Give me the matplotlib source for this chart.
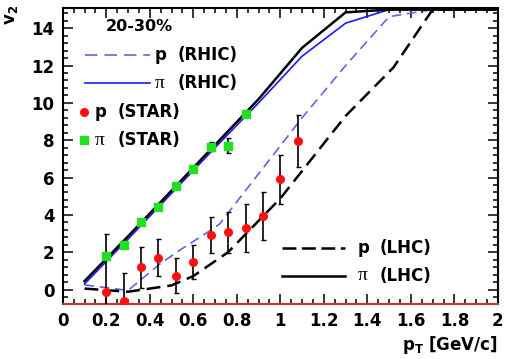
import matplotlib
matplotlib.use("Agg")
import matplotlib.pyplot as plt
from matplotlib.ticker import MultipleLocator

plt.rcParams['font.family'] = ['DejaVu Sans']
plt.rcParams['font.weight'] = 'bold'
plt.rcParams['mathtext.fontset'] = 'custom'
plt.rcParams['mathtext.bf'] = 'DejaVu Sans:bold'
plt.rcParams['mathtext.rm'] = 'DejaVu Sans:bold'
plt.rcParams['lines.scale_dashes'] = False

# ---------------- data ----------------
# LHC model curves (black)
lhc_p_pt = [0.1, 0.3, 0.5, 0.6, 0.76, 1.0, 1.3, 1.52, 1.7, 2.0]
lhc_p_v2 = [0.05, -0.12, 0.22, 0.72, 2.0, 4.88, 9.3, 11.9, 15.0, 15.0]
lhc_pi_pt = [0.1, 0.3, 0.5, 0.7, 0.9, 1.1, 1.3, 1.5, 2.0]
lhc_pi_v2 = [0.45, 2.85, 5.3, 7.75, 10.2, 12.95, 14.85, 15.0, 15.0]
# RHIC model curves (blue)
rhic_p_pt = [0.1, 0.3, 0.45, 0.55, 0.67, 0.72, 0.9, 1.1, 1.3, 1.5, 1.7, 2.0]
rhic_p_v2 = [0.25, -0.05, 1.4, 2.2, 3.1, 3.5, 6.2, 9.2, 12.0, 14.62, 15.0, 15.0]
rhic_pi_pt = [0.1, 0.3, 0.5, 0.7, 0.9, 1.1, 1.3, 1.5, 2.0]
rhic_pi_v2 = [0.3, 2.7, 5.15, 7.6, 10.0, 12.5, 14.27, 15.0, 15.0]
# STAR data
star_p_pt = [0.2, 0.28, 0.36, 0.44, 0.52, 0.6, 0.68, 0.76, 0.84, 0.92, 1.0, 1.08]
star_p_v2 = [-0.12, -0.62, 1.20, 1.70, 0.74, 1.47, 2.90, 3.07, 3.29, 3.95, 5.90, 7.94]
star_p_err = [3.1, 1.5, 1.1, 1.0, 0.93, 0.93, 0.96, 1.1, 1.3, 1.3, 1.3, 1.4]
star_pi_pt = [0.2, 0.28, 0.36, 0.44, 0.52, 0.6, 0.68, 0.76, 0.84]
star_pi_v2 = [1.77, 2.36, 3.63, 4.40, 5.55, 6.44, 7.65, 7.70, 9.42]
star_pi_err = [0.1, 0.1, 0.1, 0.1, 0.1, 0.15, 0.25, 0.4, 0.15]

centrality = "20-30%"
lbl_p = "p"
lbl_pi = "π"
lbl_rhic = "(RHIC)"
lbl_star = "(STAR)"
lbl_lhc = "(LHC)"

# ---------------- figure ----------------
fig = plt.figure(figsize=(5.06, 3.59), dpi=100)
ax = fig.add_axes([0.124, 0.153, 0.860, 0.824])

BLUE = '#1a1aff'
LBLUE = '#6464e6'
RED = '#ff1010'
GREEN = '#20e020'

ax.plot(rhic_p_pt, rhic_p_v2, color=LBLUE, lw=1.2, dashes=(7, 4), zorder=2)
ax.plot(rhic_pi_pt, rhic_pi_v2, color=BLUE, lw=1.2, zorder=2)
ax.plot(lhc_p_pt, lhc_p_v2, color='black', lw=1.8, dashes=(10, 5), zorder=3)
ax.plot(lhc_pi_pt, lhc_pi_v2, color='black', lw=1.8, zorder=3)

ax.errorbar(star_p_pt, star_p_v2, yerr=star_p_err, fmt='o', color=RED, ms=5.5,
            mec=RED, ecolor='black', elinewidth=1.2, capsize=1.8, capthick=1.0, zorder=5)
ax.errorbar(star_pi_pt, star_pi_v2, yerr=star_pi_err, fmt='s', color=GREEN, ms=5.3,
            mec=GREEN, ecolor='black', elinewidth=1.2, capsize=1.8, capthick=1.0, zorder=5)

ax.set_xlim(0, 2)
ax.set_ylim(-0.78, 15.07)
ax.xaxis.set_major_locator(MultipleLocator(0.2))
ax.xaxis.set_minor_locator(MultipleLocator(0.05))
ax.yaxis.set_major_locator(MultipleLocator(2))
ax.yaxis.set_minor_locator(MultipleLocator(0.4))
ax.set_xticks([0, 0.2, 0.4, 0.6, 0.8, 1, 1.2, 1.4, 1.6, 1.8, 2])
ax.set_xticklabels(['0', '0.2', '0.4', '0.6', '0.8', '1', '1.2', '1.4', '1.6', '1.8', '2'])
ax.tick_params(which='both', direction='in', top=True, right=True, width=1.1,
               labelsize=12, pad=6)
ax.tick_params(which='major', length=7.5)
ax.tick_params(which='minor', length=3.8)
for lab in ax.get_xticklabels() + ax.get_yticklabels():
    lab.set_fontweight('bold')
for s in ax.spines.values():
    s.set_linewidth(1.5)
ax.spines['bottom'].set_color('#c83232')

# axis titles
fig.text(0.984, 0.04, r'$\mathbf{p}_{\mathbf{T}}$ [GeV/c]', ha='right', va='center',
         fontsize=12, fontweight='bold')
fig.text(0.022, 0.985, r'$\mathbf{v}_{\mathbf{2}}$', ha='center', va='top',
         rotation=90, fontsize=12, fontweight='bold')

# ---------------- legends (manual, axes fraction) ----------------
T = ax.transAxes
ax.text(0.0995, 0.937, centrality, transform=T, ha='left', va='center',
        fontsize=11.5, fontweight='bold')

def entry(y, x_sym, x_par, sym, par, sym_is_pi):
    if sym_is_pi:
        ax.text(x_sym, y, sym, transform=T, ha='left', va='center', fontsize=14,
                family=['Liberation Serif', 'DejaVu Serif'], fontweight='normal')
    else:
        ax.text(x_sym, y, sym, transform=T, ha='left', va='center', fontsize=12,
                fontweight='bold')
    ax.text(x_par, y, par, transform=T, ha='left', va='center', fontsize=12,
            fontweight='bold')

ax.plot([0.051, 0.201], [0.842, 0.842], transform=T, color=LBLUE, lw=1.2, dashes=(9, 5))
entry(0.842, 0.212, 0.265, lbl_p, lbl_rhic, False)
ax.plot([0.051, 0.201], [0.746, 0.746], transform=T, color=BLUE, lw=1.2)
entry(0.746, 0.212, 0.265, lbl_pi, lbl_rhic, True)
ax.plot([0.049], [0.650], 'o', transform=T, color=RED, ms=5.5)
entry(0.650, 0.074, 0.125, lbl_p, lbl_star, False)
ax.plot([0.049], [0.553], 's', transform=T, color=GREEN, ms=5.3)
entry(0.553, 0.074, 0.125, lbl_pi, lbl_star, True)

ax.plot([0.503, 0.648], [0.188, 0.188], transform=T, color='black', lw=1.8, dashes=(10, 4))
entry(0.188, 0.677, 0.729, lbl_p, lbl_lhc, False)
ax.plot([0.503, 0.648], [0.095, 0.095], transform=T, color='black', lw=1.8)
entry(0.095, 0.677, 0.729, lbl_pi, lbl_lhc, True)

fig.savefig('out.png', dpi=100)
